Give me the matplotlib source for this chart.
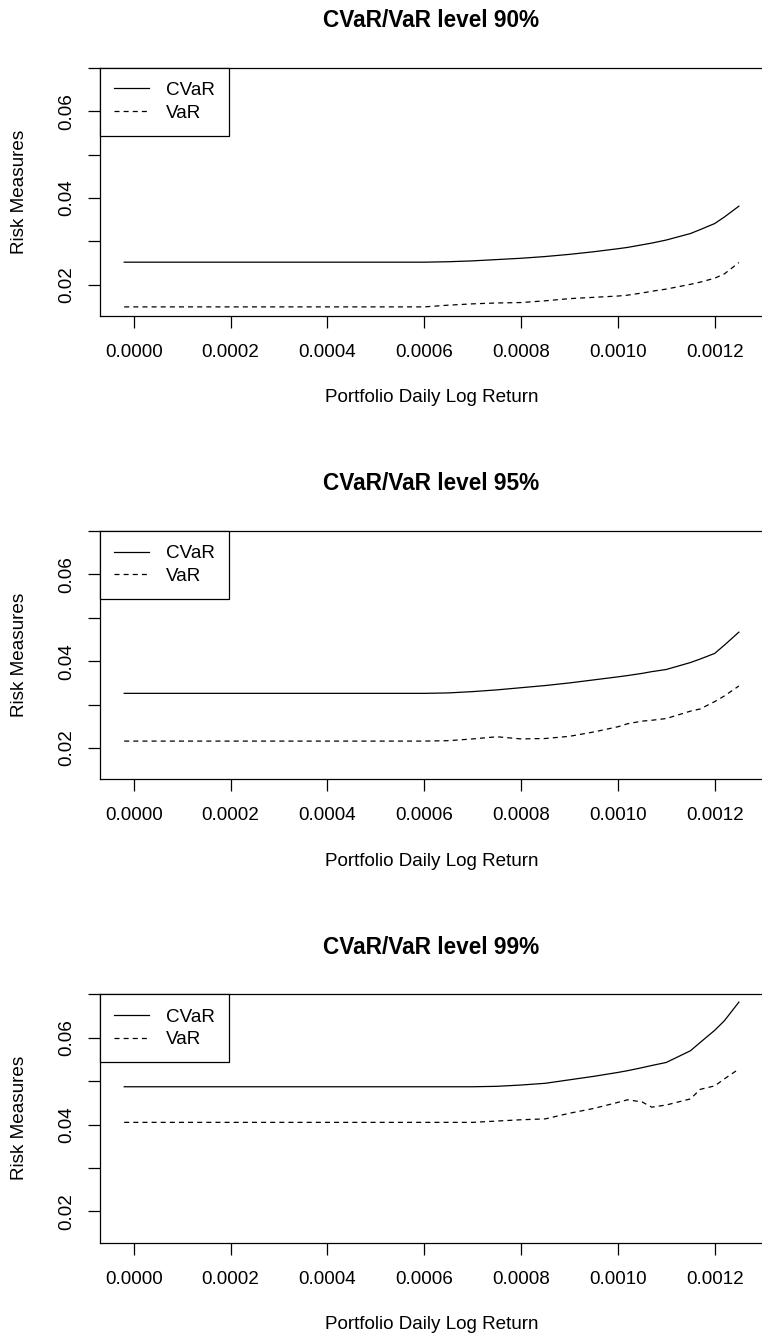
import matplotlib
matplotlib.use("Agg")
import matplotlib.pyplot as plt
from matplotlib.lines import Line2D

plt.rcParams['font.family'] = ['Liberation Sans', 'DejaVu Sans']

# ---- data ----
returns = [-0.00002, 0.0006, 0.00065, 0.0007, 0.00075, 0.0008, 0.00085, 0.0009,
           0.00095, 0.001, 0.00102, 0.00105, 0.00107, 0.0011, 0.00115, 0.00117,
           0.0012, 0.00122, 0.00125]

cvar_90 = [0.0252, 0.0252, 0.0253, 0.0255, 0.0258, 0.0261, 0.0265, 0.0270, 0.0276,
           0.0283, 0.0286, 0.0292, 0.0296, 0.0303, 0.0318, 0.0327, 0.0341, 0.0356, 0.0381]
var_90 = [0.0149, 0.0149, 0.0153, 0.0156, 0.0158, 0.0159, 0.0163, 0.0168, 0.0171,
          0.0174, 0.0176, 0.0181, 0.0185, 0.0190, 0.0201, 0.0206, 0.0215, 0.0225, 0.0251]

cvar_95 = [0.0326, 0.0326, 0.0327, 0.0330, 0.0334, 0.0339, 0.0344, 0.0350, 0.0357,
           0.0364, 0.0367, 0.0372, 0.0376, 0.0381, 0.0397, 0.0405, 0.0418, 0.0437, 0.0467]
var_95 = [0.0216, 0.0216, 0.0217, 0.0221, 0.0226, 0.0221, 0.0222, 0.0227, 0.0237,
          0.0249, 0.0256, 0.0262, 0.0264, 0.0268, 0.0285, 0.0290, 0.0307, 0.0320, 0.0343]

cvar_99 = [0.0487, 0.0487, 0.0487, 0.0487, 0.0488, 0.0491, 0.0495, 0.0503, 0.0511,
           0.0520, 0.0524, 0.0531, 0.0536, 0.0543, 0.0570, 0.0589, 0.0617, 0.0639, 0.0682]
var_99 = [0.0405, 0.0405, 0.0405, 0.0405, 0.0408, 0.0411, 0.0413, 0.0426, 0.0437,
          0.0451, 0.0457, 0.0452, 0.0440, 0.0445, 0.0459, 0.0481, 0.0489, 0.0505, 0.0528]

levels = ["90%", "95%", "99%"]
cvars = [cvar_90, cvar_95, cvar_99]
vars_ = [var_90, var_95, var_99]

x_ticks = [0.0, 0.0002, 0.0004, 0.0006, 0.0008, 0.0010, 0.0012]
y_ticks = [0.02, 0.03, 0.04, 0.05, 0.06, 0.07]
y_labels = ["0.02", "", "0.04", "", "0.06", ""]

# ---- layout ----
W, H = 762, 1335
fig = plt.figure(figsize=(W / 100, H / 100), dpi=100)

FS = 13.6
XMIN, XMAX = -0.00007, 0.0013
YMIN, YMAX = 0.0128, 0.0700
LW = 0.9
DASH = (0, (4, 3.3))

for k in range(3):
    top_px = 67.7 + 463.3 * k
    bot_px = 316.0 + 463.3 * k
    left_px = 100.0
    width_px = (XMAX - XMIN) / 0.0002 * 96.8
    ax = fig.add_axes([left_px / W, 1 - bot_px / H, width_px / W, (bot_px - top_px) / H])

    ax.plot(returns, cvars[k], color='black', lw=LW, linestyle='-')
    ax.plot(returns, vars_[k], color='black', lw=LW, linestyle=DASH)

    ax.set_xlim(XMIN, XMAX)
    ax.set_ylim(YMIN, YMAX)
    ax.set_xticks(x_ticks)
    ax.set_xticklabels([f"{v:.4f}" for v in x_ticks])
    ax.set_yticks(y_ticks)
    ax.set_yticklabels(y_labels)
    for s in ax.spines.values():
        s.set_linewidth(LW)
        s.set_color('black')
    ax.tick_params(axis='both', direction='out', length=8.6, width=LW,
                   labelsize=FS, colors='black')
    ax.tick_params(axis='x', pad=11.5)
    ax.tick_params(axis='y', pad=9.0)
    for lab in ax.get_yticklabels():
        lab.set_rotation(90)
        lab.set_va('center')

    handles = [Line2D([], [], color='black', lw=LW, linestyle='-'),
               Line2D([], [], color='black', lw=LW, linestyle=DASH)]
    leg = ax.legend(handles, ["CVaR", "VaR"], loc='upper left', bbox_to_anchor=(0, 1),
                    borderaxespad=0, frameon=True, fancybox=False, framealpha=1,
                    edgecolor='black', fontsize=FS, handlelength=1.85,
                    handletextpad=0.9, borderpad=0.74, labelspacing=0.3)
    leg.get_frame().set_linewidth(LW)

    # title, axis labels
    fig.text(431.5 / W, 1 - (20.7 + 463.3 * k) / H, f"CVaR/VaR level {levels[k]}",
             ha='center', va='center', fontsize=16.3, fontweight='bold')
    fig.text(431.5 / W, 1 - (398 + 463.3 * k) / H, "Portfolio Daily Log Return",
             ha='center', va='center', fontsize=FS)
    fig.text(20 / W, 1 - (191.5 + 463.3 * k) / H, "Risk Measures",
             ha='center', va='center', rotation=90, fontsize=FS)

fig.savefig("out.png", dpi=100)
